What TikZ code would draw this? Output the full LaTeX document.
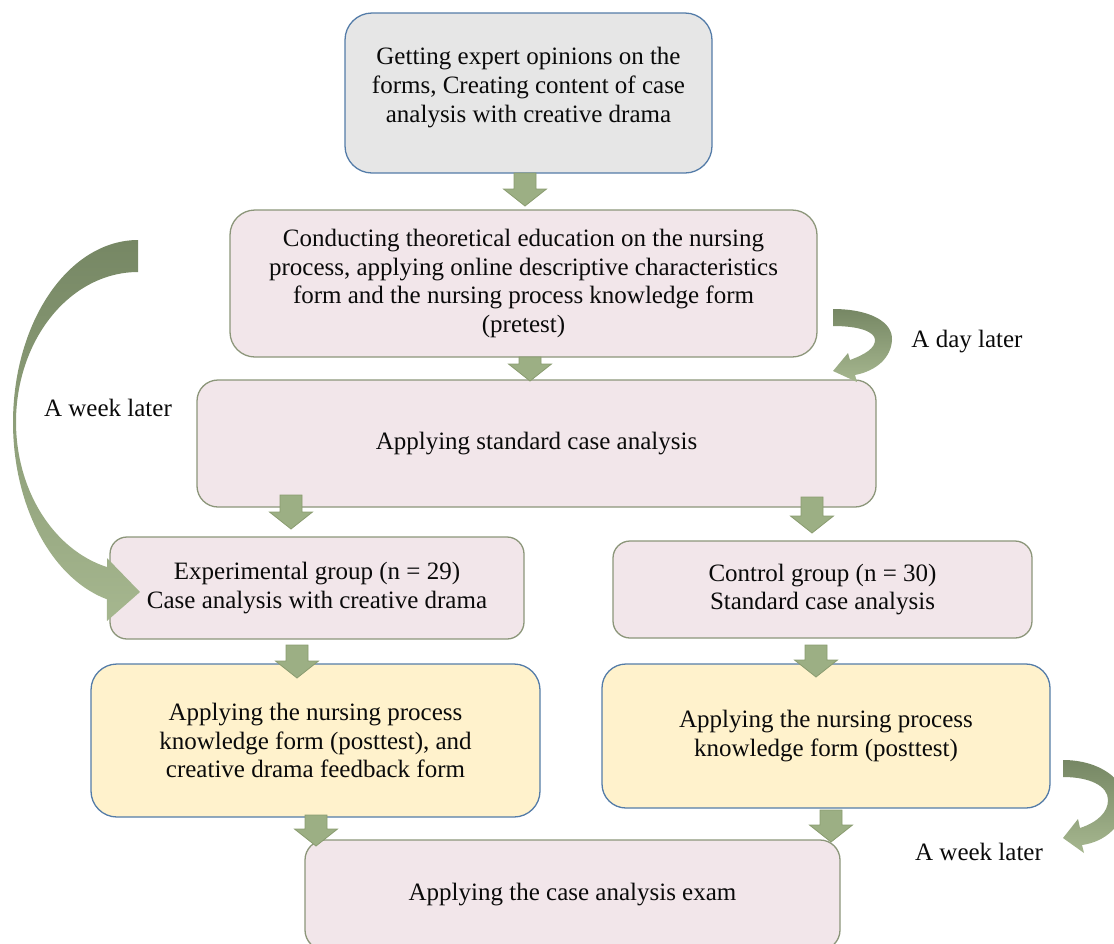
\documentclass[tikz,border=0pt]{standalone}
\usepackage{fontspec}
\setmainfont{Liberation Serif}
\usetikzlibrary{calc}
\definecolor{pinkfill}{RGB}{242,230,234}
\definecolor{pinkline}{RGB}{140,150,122}
\definecolor{grayfill}{RGB}{230,230,230}
\definecolor{blueline}{RGB}{84,124,168}
\definecolor{yellowfill}{RGB}{255,242,204}
\definecolor{arrowfill}{RGB}{156,175,132}
\definecolor{arrowline}{RGB}{138,156,112}
\definecolor{curvedark}{RGB}{118,135,100}
\definecolor{curvelight}{RGB}{166,183,143}
\definecolor{txt}{RGB}{10,10,10}
\newcommand\blockdown[3]{%
  \filldraw[blockarrow] ({#1-11},#2) -- ({#1+11},#2) -- ({#1+11},{#3-17}) -- ({#1+21.5},{#3-17})
    -- (#1,#3) -- ({#1-21.5},{#3-17}) -- ({#1-11},{#3-17}) -- cycle;}
\begin{document}
\begin{tikzpicture}[x=1pt,y=-1pt,
  box/.style={draw, line width=1.3pt, align=center, inner sep=0pt, text=txt,
              font=\fontsize{25}{28.5}\selectfont},
  pinkbox/.style={box, fill=pinkfill, draw=pinkline},
  graybox/.style={box, fill=grayfill, draw=blueline},
  yellowbox/.style={box, fill=yellowfill, draw=blueline},
  lbl/.style={text=txt, inner sep=0pt, align=center, font=\fontsize{25}{29}\selectfont},
  blockarrow/.style={fill=arrowfill, draw=arrowline, line width=0.8pt, line join=miter},
  curved/.style={top color=curvedark, bottom color=curvelight}
]
\useasboundingbox (0,0) rectangle (1114,943);

% boxes
\node[graybox, minimum width=367pt, minimum height=160pt, rounded corners=27pt] (b1) at (528.5,93) {};
\node[lbl] (t1) at (528.5,88)
  {Getting expert opinions on the\\forms, Creating content of case\\analysis with creative drama};
\node[pinkbox, minimum width=587pt, minimum height=147pt, rounded corners=25pt] (b2) at (523.5,283.5)
  {Conducting theoretical education on the nursing\\process, applying online descriptive characteristics\\form and the nursing process knowledge form\\(pretest)};
\node[pinkbox, minimum width=679pt, minimum height=127pt, rounded corners=21pt] (b3) at (536.5,443.5)
  {Applying standard case analysis};
\node[pinkbox, minimum width=414pt, minimum height=102pt, rounded corners=17pt] (b4) at (317,588)
  {Experimental group (n = 29)\\Case analysis with creative drama};
\node[pinkbox, minimum width=419pt, minimum height=97pt, rounded corners=17pt] (b5) at (822.5,589.5)
  {Control group (n = 30)\\Standard case analysis};
\node[yellowbox, minimum width=449pt, minimum height=153pt, rounded corners=26pt] (b6) at (315.5,740.5)
  {Applying the nursing process\\knowledge form (posttest), and\\creative drama feedback form};
\node[yellowbox, minimum width=448pt, minimum height=144pt, rounded corners=24pt] (b7) at (826,736)
  {Applying the nursing process\\knowledge form (posttest)};
\node[pinkbox, minimum width=535pt, minimum height=110pt, rounded corners=20pt] (b8) at (572.5,895)
  {Applying the case analysis exam};

% straight block arrows between boxes
\blockdown{525}{173}{206}
\blockdown{530}{357}{381}
\blockdown{291}{495}{529}
\blockdown{812}{497}{533}
\blockdown{297}{645}{678}
\blockdown{816}{645}{677}
\blockdown{316}{815}{846}
\blockdown{831}{810}{842}

% big curved arrow on the left (a week later)
\shade[curved] plot[domain=0:165.6, samples=60, smooth] ({138-125*sin(\x)},{422.5-182.5*cos(\x)})
  -- (107,621) -- (140,592) -- (107,558) --
  plot[domain=165.28:0, samples=60, smooth] ({138-122*sin(\x)},{422-150*cos(\x)}) -- cycle;

% small curved arrow (a day later)
\shade[curved] (833,309) .. controls (870,309) and (893,322) .. (892,340)
  .. controls (891,358) and (876,371) .. (855,375) -- (857,382) -- (833,371) -- (848,353)
  -- (850,360) .. controls (866,354) and (875,348) .. (875,340)
  .. controls (875,332) and (860,326) .. (833,326) -- cycle;

% curved arrow bottom right (a week later)
\shade[curved] (1063,760) .. controls (1100,760) and (1125,780) .. (1125,800)
  .. controls (1125,825) and (1105,842) .. (1082,845) -- (1084,853) -- (1063,838) -- (1078,819)
  -- (1080,828) .. controls (1098,822) and (1108,812) .. (1108,800)
  .. controls (1108,786) and (1090,777) .. (1063,777) -- cycle;

% labels
\node[lbl] (l1) at (108,408) {A week later};
\node[lbl] (l2) at (967,342) {A day later};
\node[lbl] (l3) at (979,852) {A week later};
\end{tikzpicture}
\end{document}
